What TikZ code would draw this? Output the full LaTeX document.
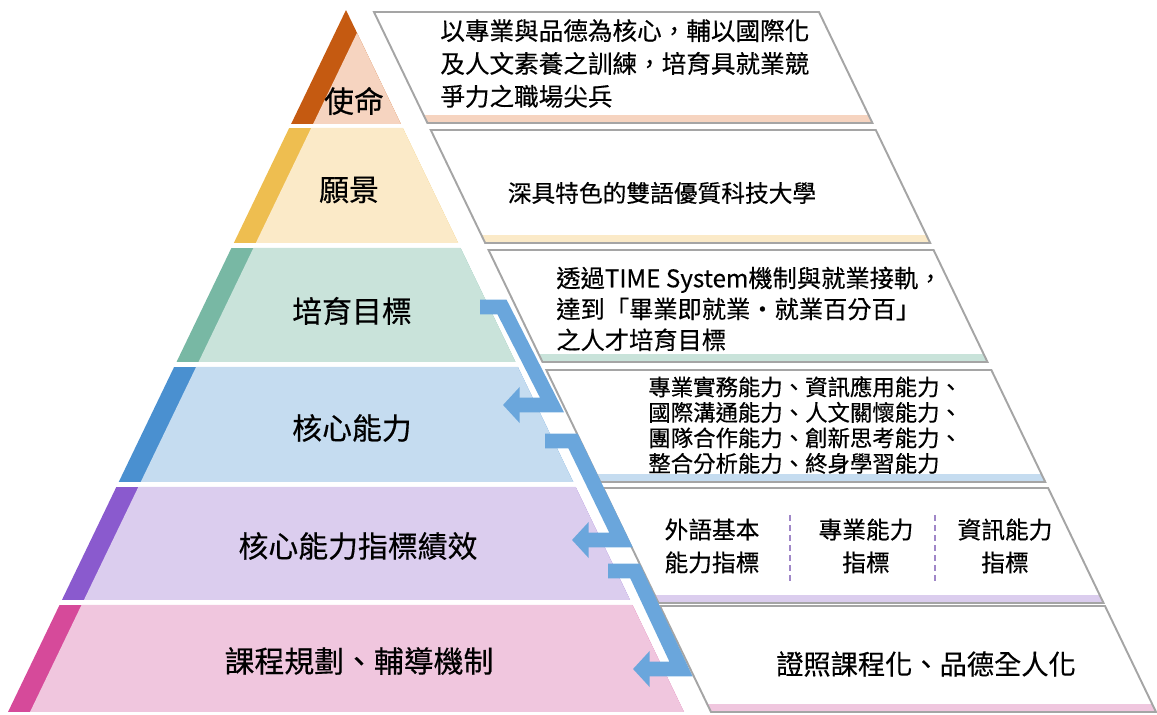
\documentclass[tikz,border=0pt]{standalone}
\usepackage{fontspec}
\setmainfont{Noto Sans CJK TC}[FakeBold=0.4]
\usetikzlibrary{arrows.meta}

\definecolor{dkA}{RGB}{197,90,17}
\definecolor{ltA}{RGB}{246,212,192}
\definecolor{dkB}{RGB}{238,190,80}
\definecolor{ltB}{RGB}{251,234,200}
\definecolor{dkC}{RGB}{120,184,164}
\definecolor{ltC}{RGB}{201,227,218}
\definecolor{dkD}{RGB}{74,144,208}
\definecolor{ltD}{RGB}{197,220,240}
\definecolor{dkE}{RGB}{138,90,206}
\definecolor{ltE}{RGB}{219,205,238}
\definecolor{dkF}{RGB}{214,74,154}
\definecolor{ltF}{RGB}{240,198,222}
\definecolor{boxgray}{RGB}{165,165,165}
\definecolor{flowblue}{RGB}{106,166,220}
\definecolor{sepviolet}{RGB}{160,135,200}

\tikzset{
  layer/.style={font=\fontsize{17}{20}\selectfont, inner sep=0pt},
  boxtext/.style={align=left, inner sep=0pt, anchor=west},
  colitem/.style={align=center, inner sep=0pt, font=\fontsize{13.5}{18.7}\selectfont},
  boxline/.style={draw=boxgray, line width=1.1pt},
  flow/.style={draw=flowblue, line width=8.4pt, -{Triangle[width=20pt,length=9.5pt]}},
  sepline/.style={draw=sepviolet, line width=1.6pt, dash pattern=on 3.5pt off 2.2pt},
}

\begin{document}
\begin{tikzpicture}[x=0.02cm, y=-0.02cm]
\useasboundingbox (0,0) rectangle (1157,715);

% pyramid layers
\begin{scope}
  \clip (346,10) -- (684,712) -- (8,712) -- cycle;
  \foreach \t/\b/\dk/\lt in {10/124/dkA/ltA, 128/243/dkB/ltB, 248/362/dkC/ltC,
                             367/482/dkD/ltD, 487/600/dkE/ltE, 605/712/dkF/ltF}{
    \fill[\dk] (0,\t) rectangle (700,\b);
    \fill[\lt] ({368-0.4815*(\t-10)},\t) -- (700,\t) -- (700,\b) -- ({368-0.4815*(\b-10)},\b) -- cycle;
  }
\end{scope}

% boxes on the right
\foreach \t/\b/\lt in {12/123/ltA, 130/243/ltB, 250/362/ltC,
                       370/482/ltD, 488/603/ltE, 606/712/ltF}{
  \begin{scope}
    \clip ({373+0.4815*(\t-10)},\t) -- ({818+0.4815*(\t-10)},\t)
       -- ({818+0.4815*(\b-10)},\b) -- ({373+0.4815*(\b-10)},\b) -- cycle;
    \fill[\lt] (0,\b-8) rectangle (1157,\b);
  \end{scope}
  \draw[boxline] ({373+0.4815*(\t-10)},\t) -- ({818+0.4815*(\t-10)},\t)
     -- ({818+0.4815*(\b-10)},\b) -- ({373+0.4815*(\b-10)},\b) -- cycle;
}

% layer labels
\node[layer] (mission) at (354,101) {使命};
\node[layer] (vision)  at (349,190) {願景};
\node[layer] (goal)    at (352,311) {培育目標};
\node[layer] (core)    at (352,428) {核心能力};
\node[layer] (index)   at (358,546) {核心能力指標績效};
\node[layer] (course)  at (359,661) {課程規劃、輔導機制};

% box texts
\node[boxtext, font=\fontsize{14}{18.7}\selectfont] (missiontxt) at (440,63.5)
  {以專業與品德為核心，輔以國際化\\及人文素養之訓練，培育具就業競\\爭力之職場尖兵};
\node[inner sep=0pt, font=\fontsize{13.5}{16}\selectfont] (visiontxt) at (662,193)
  {深具特色的雙語優質科技大學};
\node[boxtext, font=\fontsize{13.8}{17.6}\selectfont] (goaltxt) at (556,309)
  {透過TIME System機制與就業接軌，\\達到「畢業即就業・就業百分百」\\之人才培育目標};
\node[boxtext, font=\fontsize{12.75}{14.5}\selectfont] (coretxt) at (648,425)
  {專業實務能力、資訊應用能力、\\國際溝通能力、人文關懷能力、\\團隊合作能力、創新思考能力、\\整合分析能力、終身學習能力};
\node[colitem] (langidx) at (712,546) {外語基本\\能力指標};
\node[colitem] (profidx) at (866,546) {專業能力\\指標};
\node[colitem] (infoidx) at (1005,546) {資訊能力\\指標};
\draw[sepline] (790,515) -- (790,583);
\draw[sepline] (935,515) -- (935,583);
\node[inner sep=0pt, font=\fontsize{15.5}{18}\selectfont] (coursetxt) at (926,664)
  {證照課程化、品德全人化};

% flow arrows between layers
\coordinate (g1) at (480,307); \coordinate (g2) at (502,307);
\coordinate (g3) at (552,405); \coordinate (g4) at (503,405);
\draw[flow] (g1) -- (g2) -- (g3) -- (g4);
\coordinate (c1) at (545,441); \coordinate (c2) at (573,441);
\coordinate (c3) at (621,540); \coordinate (c4) at (572,540);
\draw[flow] (c1) -- (c2) -- (c3) -- (c4);
\coordinate (i1) at (608,571); \coordinate (i2) at (635,571);
\coordinate (i3) at (681,669); \coordinate (i4) at (633,669);
\draw[flow] (i1) -- (i2) -- (i3) -- (i4);
\end{tikzpicture}
\end{document}
